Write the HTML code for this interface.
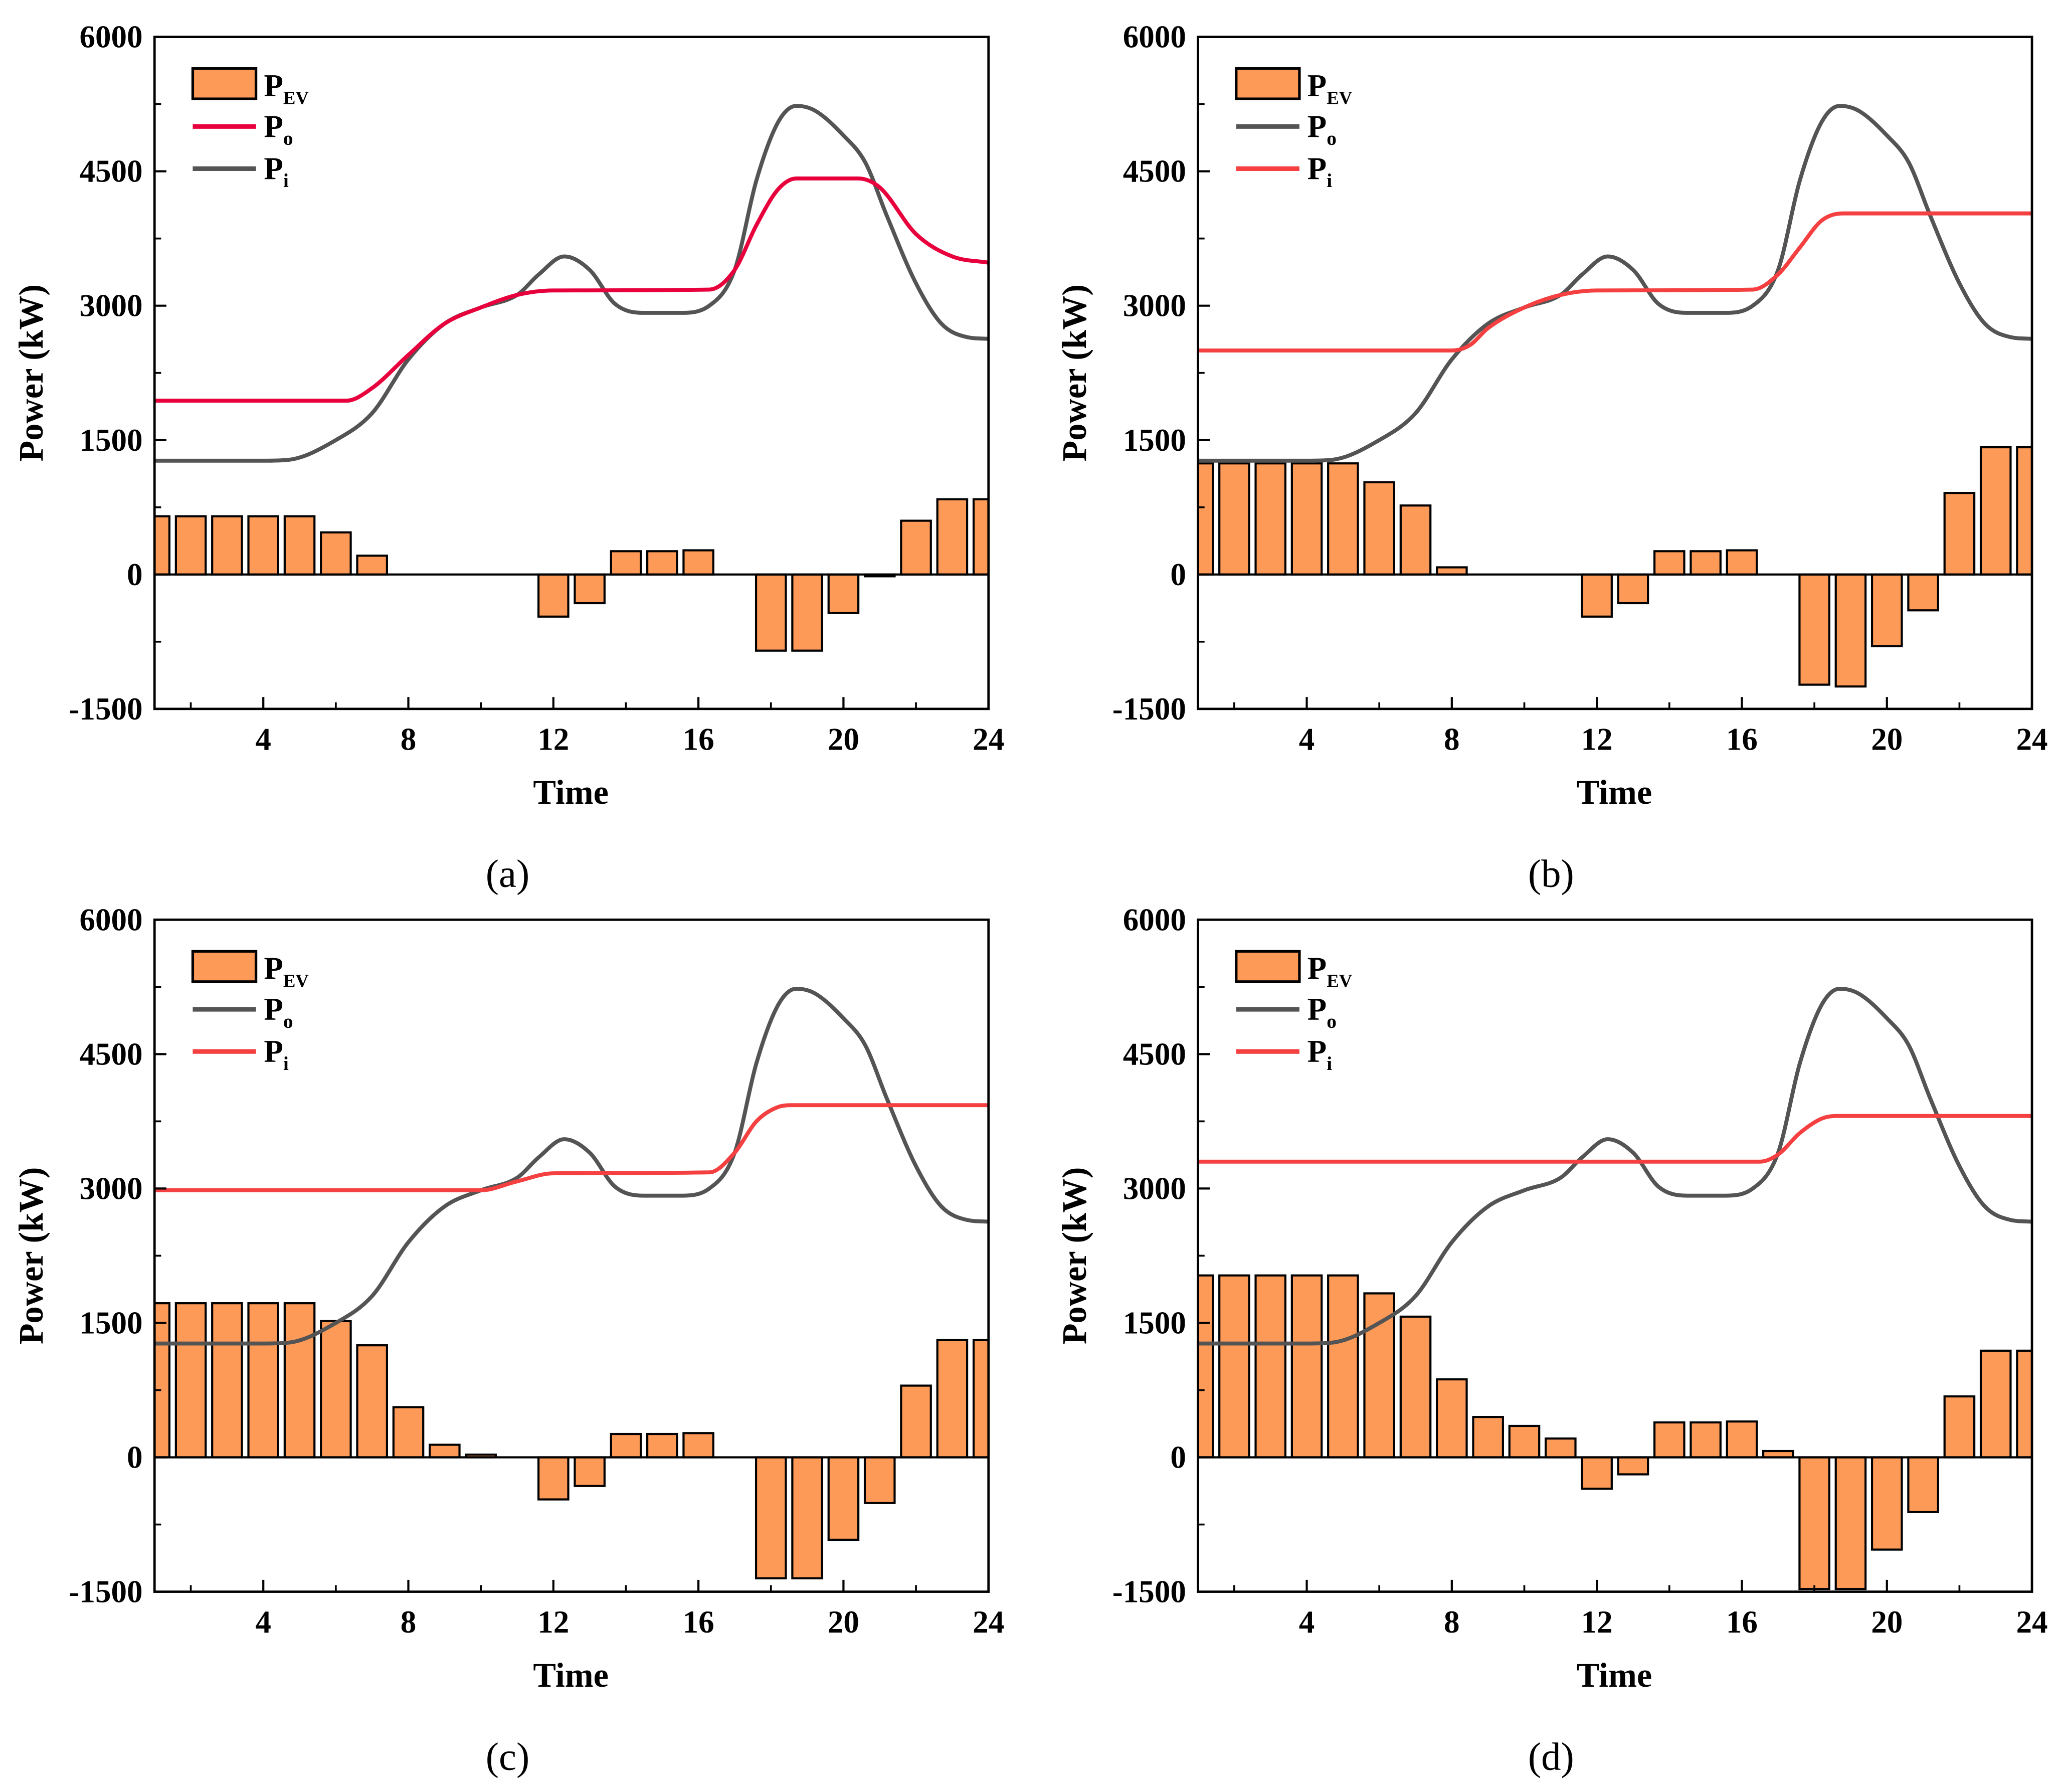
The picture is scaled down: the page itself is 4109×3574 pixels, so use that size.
<!DOCTYPE html>
<html><head><meta charset="utf-8"><style>
html,body{margin:0;padding:0;background:#fff;}
svg{display:block;}
text{font-family:"Liberation Serif",serif;font-weight:bold;fill:#000;}
</style></head><body>
<svg id="fig" width="4109" height="3574" viewBox="0 0 1563 1360" xmlns="http://www.w3.org/2000/svg"></svg>
<script>
// ---- data ----
const hours = [1,2,3,4,5,6,7,8,9,10,11,12,13,14,15,16,17,18,19,20,21,22,23,24];
const evA = [650,650,650,650,650,470,210,0,0,0,0,-470,-320,260,260,270,0,-850,-850,-430,-20,600,840,840];
const evB = [1240,1240,1240,1240,1240,1030,770,80,0,0,0,-470,-320,260,260,270,0,-1230,-1250,-800,-400,910,1420,1420];
const evC = [1720,1720,1720,1720,1720,1520,1250,560,140,30,0,-470,-320,260,260,270,0,-1350,-1350,-920,-510,800,1310,1310];
const evD = [2030,2030,2030,2030,2030,1830,1570,870,450,350,210,-350,-190,390,390,400,70,-1470,-1470,-1030,-610,680,1190,1190];
const grayT = [1,2,3,4,4.7,6,7,8,9,10,11,11.6,12.3,13,13.7,14.5,15.5,16.3,17,17.6,18.2,18.7,19.2,20,20.6,21.2,22,22.7,23.4,24];
const grayV = [1270,1270,1270,1270,1280,1500,1800,2400,2800,2980,3120,3350,3550,3400,3020,2920,2920,3000,3400,4400,5050,5230,5180,4900,4600,4000,3250,2800,2650,2630];
const redAT = [1,6.3,7,8,9,10,11,12,16.3,17,17.6,18.2,18.7,20.4,21,22,23,24];
const redAV = [1940,1940,2080,2450,2800,2980,3120,3170,3180,3400,3900,4300,4420,4420,4320,3800,3550,3480];
const redBT = [1,8,8.5,9,10,11,12,16.3,17,17.6,18.2,18.8,24];
const redBV = [2500,2500,2560,2750,2980,3120,3170,3180,3350,3650,3950,4030,4030];
const redCT = [1,10,11,12,16.3,17,17.6,18.2,18.6,24];
const redCV = [2980,2980,3080,3170,3180,3400,3750,3910,3930,3930];
const redDT = [1,16.5,17,17.6,18.2,18.6,24];
const redDV = [3300,3300,3380,3620,3780,3810,3810];
const yTicks = [-1500,0,1500,3000,4500,6000];
const xTicks = [4,8,12,16,20,24];

const NS="http://www.w3.org/2000/svg";
const svg=document.getElementById('fig');
function mk(tag,attrs,parent){const e=document.createElementNS(NS,tag);for(const k in attrs)e.setAttribute(k,attrs[k]);(parent||svg).appendChild(e);return e;}

function monoPath(xs,ys){
  const n=xs.length;const d=[],m=[];
  for(let i=0;i<n-1;i++){d.push((ys[i+1]-ys[i])/(xs[i+1]-xs[i]));}
  for(let i=0;i<n;i++){
    if(i===0)m.push(d[0]);else if(i===n-1)m.push(d[n-2]);
    else{ if(d[i-1]*d[i]<=0)m.push(0); else m.push((d[i-1]+d[i])/2);}
  }
  for(let i=0;i<n-1;i++){
    if(d[i]===0){m[i]=0;m[i+1]=0;continue;}
    const a=m[i]/d[i],b=m[i+1]/d[i],s=a*a+b*b;
    if(s>9){const t=3/Math.sqrt(s);m[i]=t*a*d[i];m[i+1]=t*b*d[i];}
  }
  let p=`M${xs[0]},${ys[0]}`;
  for(let i=0;i<n-1;i++){const h=(xs[i+1]-xs[i])/3;
    p+=` C${xs[i]+h},${ys[i]+m[i]*h} ${xs[i+1]-h},${ys[i+1]-m[i+1]*h} ${xs[i+1]},${ys[i+1]}`;}
  return p;
}

const panels=[
 {id:'a',ox:0,oy:0,ev:evA,rT:redAT,rV:redAV,redCol:'#e8003d',order:'red-first'},
 {id:'b',ox:792,oy:0,ev:evB,rT:redBT,rV:redBV,redCol:'#f44040',order:'gray-first'},
 {id:'c',ox:0,oy:670,ev:evC,rT:redCT,rV:redCV,redCol:'#f44040',order:'gray-first'},
 {id:'d',ox:792,oy:670,ev:evD,rT:redDT,rV:redDV,redCol:'#f44040',order:'gray-first'}
];

panels.forEach(P=>{
  const L=117+P.ox,R=750+P.ox,T=28+P.oy,B=538+P.oy;
  const g=mk('g',{});
  
  
  const xs=t=>L+(t-1)*(R-L)/23;
  const ys=v=>B-(v+1500)*(B-T)/7500;
  const cid='clip'+P.id;
  const cp=mk('clipPath',{id:cid},g);mk('rect',{x:L,y:T,width:R-L,height:B-T},cp);
  const plot=mk('g',{'clip-path':`url(#${cid})`},g);
  const bw=22.6;
  hours.forEach((h,i)=>{
    const v=P.ev[i];if(v===0)return;
    const y0=ys(0),y1=ys(v);
    const r=mk('rect',{x:xs(h)-bw/2,y:Math.min(y0,y1),width:bw,height:Math.abs(y1-y0),fill:'#fd9a58',stroke:'#000','stroke-width':1.6},plot);
    
    
  });
  mk('line',{x1:L,x2:R,y1:ys(0),y2:ys(0),stroke:'#000','stroke-width':1.6},plot);
  const gp=mk('path',{d:monoPath(grayT.map(xs),grayV.map(ys)),fill:'none',stroke:'#545454','stroke-width':3},plot);
  
  
  const rp=mk('path',{d:monoPath(P.rT.map(xs),P.rV.map(ys)),fill:'none',stroke:P.redCol,'stroke-width':3},plot);
  
  
  mk('rect',{x:L,y:T,width:R-L,height:B-T,fill:'none',stroke:'#000','stroke-width':1.8},g);
  yTicks.forEach(v=>{
    mk('line',{x1:L,x2:L+9,y1:ys(v),y2:ys(v),stroke:'#000','stroke-width':1.6},g);
    const t=mk('text',{x:L-9,y:ys(v)+8,'text-anchor':'end','font-size':24},g);t.textContent=v;
    
    
  });
  for(let v=-750;v<6000;v+=1500) mk('line',{x1:L,x2:L+5,y1:ys(v),y2:ys(v),stroke:'#000','stroke-width':1.4},g);
  xTicks.forEach(h=>{
    mk('line',{x1:xs(h),x2:xs(h),y1:B,y2:B-9,stroke:'#000','stroke-width':1.6},g);
    const t=mk('text',{x:xs(h),y:B+31,'text-anchor':'middle','font-size':24},g);t.textContent=h;
    
    
  });
  for(let h=2;h<24;h+=4) mk('line',{x1:xs(h),x2:xs(h),y1:B,y2:B-5,stroke:'#000','stroke-width':1.4},g);
  const yt=mk('text',{x:0,y:0,'text-anchor':'middle','font-size':26,transform:`translate(${32+P.ox},${(T+B)/2}) rotate(-90)`},g);
  yt.textContent='Power (kW)';
  
  
  const xt=mk('text',{x:433+P.ox,y:610+P.oy,'text-anchor':'middle','font-size':26},g);
  xt.textContent='Time';
  
  
  const cap=mk('text',{x:385+P.ox,y:673+P.oy,'text-anchor':'middle','font-size':30,style:'font-weight:normal'},g);
  cap.textContent='('+P.id+')';
  
  
  const lx=146+P.ox,ly=52+P.oy;
  const lg=mk('g',{},g);
  
  
  mk('rect',{x:lx,y:ly,width:48,height:23,fill:'#fd9a58',stroke:'#000','stroke-width':2},lg);
  const t1=mk('text',{x:lx+54,y:ly+21,'font-size':24},lg);t1.innerHTML='P<tspan font-size="14" dy="6">EV</tspan>';
  const firstCol=P.order==='red-first'?P.redCol:'#545454';
  const secondCol=P.order==='red-first'?'#545454':P.redCol;
  mk('line',{x1:lx,x2:lx+48,y1:ly+44,y2:ly+44,stroke:firstCol,'stroke-width':3.5},lg);
  const t2=mk('text',{x:lx+54,y:ly+52,'font-size':24},lg);t2.innerHTML='P<tspan font-size="15" dy="6">o</tspan>';
  mk('line',{x1:lx,x2:lx+48,y1:ly+76,y2:ly+76,stroke:secondCol,'stroke-width':3.5},lg);
  const t3=mk('text',{x:lx+54,y:ly+84,'font-size':24},lg);t3.innerHTML='P<tspan font-size="15" dy="6">i</tspan>';
});
</script>
</body></html>
